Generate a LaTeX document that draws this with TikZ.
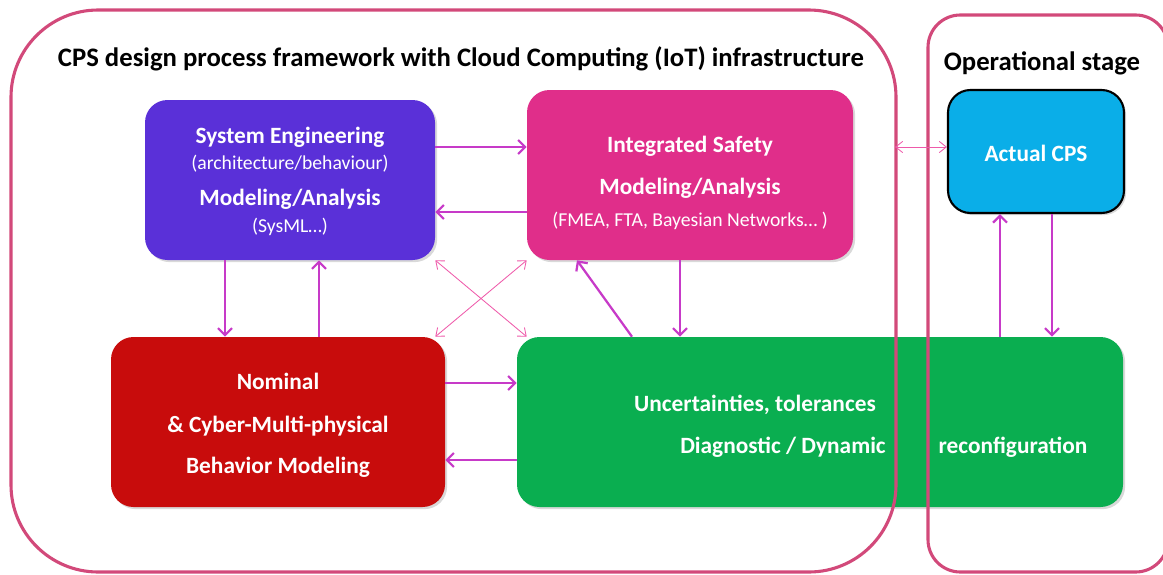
\documentclass[tikz,border=0pt]{standalone}
\usepackage{fontspec}
\setmainfont{Carlito}
\usepackage{tikz}
\usetikzlibrary{arrows.meta,shadows}
\definecolor{cpsframe}{HTML}{D2497A}
\definecolor{cpsviolet}{HTML}{5A30D8}
\definecolor{cpsmagenta}{HTML}{E02E8A}
\definecolor{cpscyan}{HTML}{0AAEE8}
\definecolor{cpsred}{HTML}{C80C0C}
\definecolor{cpsgreen}{HTML}{0AAE50}
\definecolor{cpsflow}{HTML}{C73AC8}
\definecolor{cpspink}{HTML}{EE5AAA}
\newcommand{\pxu}{0.025cm}
\newcommand{\cpssub}{\mdseries\fontsize{14}{19}\selectfont}

\begin{document}
\begin{tikzpicture}[
        x=0.025cm, y=-0.025cm,
        block/.style={
            rounded corners=16pt,
            drop shadow={shadow xshift=1.5pt, shadow yshift=-1.5pt, opacity=0.3}
        },
        blocktext/.style={
            text=white,
            align=center,
            font=\bfseries\fontsize{16.6}{19}\selectfont
        },
        heading/.style={font=\bfseries\fontsize{19}{22}\selectfont},
        frame/.style={draw=cpsframe, line width=2.2pt, rounded corners=62pt},
        flow/.style={-{Straight Barb[length=5pt,width=10pt]}, line width=1.6pt, cpsflow},
        cross/.style={{Straight Barb[length=5pt,width=8pt]}-{Straight Barb[length=5pt,width=8pt]}, line width=0.6pt, cpspink}
    ]
        \useasboundingbox (0,0) rectangle (1163,574);

        % blocks
        \node[block, fill=cpsviolet, minimum width=290*\pxu, minimum height=160*\pxu] (se) at (290,180) {};
        \node[block, fill=cpsmagenta, minimum width=326*\pxu, minimum height=170*\pxu] (is) at (690,175) {};
        \node[block, fill=cpscyan, draw=black, line width=1.5pt, minimum width=176*\pxu, minimum height=123*\pxu] (cps) at (1036,151.5) {};
        \node[block, fill=cpsred, minimum width=334*\pxu, minimum height=170*\pxu] (nom) at (278,422) {};
        \node[block, fill=cpsgreen, minimum width=606*\pxu, minimum height=170*\pxu] (gr) at (820,422) {};

        \node[blocktext] (se-text) at (290,181) {System Engineering\\{\cpssub (architecture/behaviour)}\\[6.4pt]Modeling/Analysis\\{\cpssub (SysML…)}};
        \node[blocktext] (is-text) at (690,183) {Integrated Safety\\[10.8pt]Modeling/Analysis\\[3.7pt]{\cpssub (FMEA, FTA, Bayesian Networks… )}};
        \node[blocktext] (cps-text) at (1036,153) {Actual CPS};
        \node[blocktext] (nom-text) at (278,425) {Nominal\\[11.5pt]\& Cyber-Multi-physical\\[10pt]Behavior Modeling};
        \node[blocktext] (gr-text1) at (755,405) {Uncertainties, tolerances};
        \node[blocktext] (gr-text2) at (783,447) {Diagnostic / Dynamic};
        \node[blocktext] (gr-text3) at (1013,447) {reconfiguration};

        % frames
        \draw[frame] (11,10) rectangle (896,572);
        \draw[frame, rounded corners=23pt] (928,15) rectangle (1168,572);
        \node[heading] (design-title) at (461,59) {CPS design process framework with Cloud Computing (IoT) infrastructure};
        \node[heading] (op-title) at (1042,63) {Operational stage};
        \coordinate (design-edge) at (895,147);

        % links
        \draw[flow] (se.east |- 0,147) -- (is.west |- 0,147);
        \draw[flow] (is.west |- 0,212) -- (se.east |- 0,212);
        \draw[flow] (se.south -| 225,0) -- (nom.north -| 225,0);
        \draw[flow] (nom.north -| 319,0) -- (se.south -| 319,0);
        \draw[flow] (nom.east |- 0,383) -- (gr.west |- 0,383);
        \draw[flow] (gr.west |- 0,460) -- (nom.east |- 0,460);
        \draw[flow] (gr.north -| 632,0) -- (is.south -| 577,0);
        \draw[flow] (is.south -| 680,0) -- (gr.north -| 680,0);
        \draw[flow] (gr.north -| 1000,0) -- (cps.south -| 1000,0);
        \draw[flow] (cps.south -| 1052,0) -- (gr.north -| 1052,0);
        \draw[cross] (se.south east) -- (gr.north -| is.south west);
        \draw[cross] (nom.north east -| se.south east) -- (is.south west);
        \draw[cross] (design-edge) -- (cps.west |- design-edge);
    \end{tikzpicture}
\end{document}
